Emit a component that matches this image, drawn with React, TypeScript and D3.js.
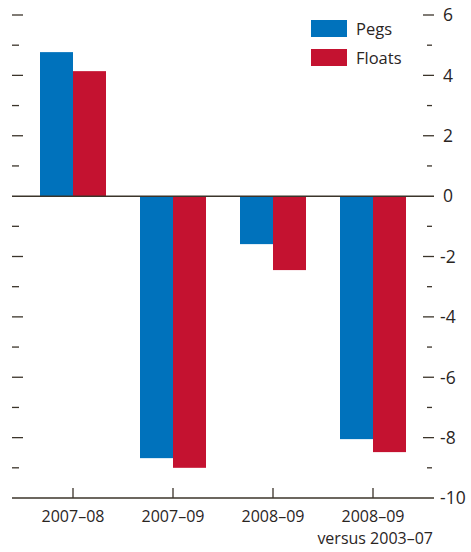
import { useEffect, useRef } from 'react';
import * as d3 from 'd3';

const categories = ['2007–08', '2007–09', '2008–09', '2008–09'];
const subLabels = ['', '', '', 'versus 2003–07'];
const series = ['Pegs', 'Floats'];
const pegs = [4.77, -8.68, -1.59, -8.05];
const floats = [4.14, -9.0, -2.45, -8.48];
const majorTicks = [6, 4, 2, 0, -2, -4, -6, -8, -10];
const minorTicks = [5, 3, 1, -1, -3, -5, -7, -9];

const colors = ['#0072bc', '#c41230'];
const ink = '#3b342a';
const textInk = '#2a251f';
const font = '"Open Sans", "Noto Sans", sans-serif';

export default function App() {
  const svgRef = useRef<SVGSVGElement | null>(null);

  useEffect(() => {
    if (!svgRef.current) return;
    const svg = d3.select(svgRef.current);
    svg.selectAll('*').remove();

    const left = 12;
    const right = 433;

    const y = d3.scaleLinear().domain([-10, 6]).range([498, 15]);
    const x = d3.scaleBand<number>().domain(d3.range(categories.length)).range([23, 423]);
    const barW = 33;

    // bars
    const values = [pegs, floats];
    values.forEach((vals, si) => {
      svg
        .append('g')
        .selectAll('rect')
        .data(vals)
        .join('rect')
        .attr('x', (_, i) => x(i)! + x.bandwidth() / 2 - barW + si * barW)
        .attr('width', barW)
        .attr('y', (d) => y(Math.max(0, d)))
        .attr('height', (d) => Math.abs(y(d) - y(0)))
        .attr('fill', colors[si]);
    });

    // left ticks
    const ticks = svg.append('g').attr('stroke', ink).attr('stroke-width', 1.3);
    ticks
      .selectAll('line.lmaj')
      .data(majorTicks.filter((t) => t !== 0 && t !== -10))
      .join('line')
      .attr('x1', left)
      .attr('x2', left + 11)
      .attr('y1', (d) => y(d))
      .attr('y2', (d) => y(d));
    ticks
      .selectAll('line.lmin')
      .data(minorTicks)
      .join('line')
      .attr('x1', left)
      .attr('x2', left + 7)
      .attr('y1', (d) => y(d))
      .attr('y2', (d) => y(d));

    // right axis
    const rAxis = svg.append('g').attr('stroke', ink).attr('stroke-width', 1.3);
    rAxis
      .selectAll('line.rmaj')
      .data(majorTicks.filter((t) => t !== 0 && t !== -10))
      .join('line')
      .attr('x1', right - 10)
      .attr('x2', right + 1)
      .attr('y1', (d) => y(d))
      .attr('y2', (d) => y(d));
    rAxis
      .selectAll('line.rmin')
      .data(minorTicks)
      .join('line')
      .attr('x1', right - 6)
      .attr('x2', right - 1)
      .attr('y1', (d) => y(d))
      .attr('y2', (d) => y(d));

    svg
      .append('g')
      .selectAll('text')
      .data(majorTicks)
      .join('text')
      .attr('x', (d) => (d < 0 ? 440 : 443))
      .attr('y', (d) => y(d))
      .attr('dy', '0.36em')
      .attr('font-family', font)
      .attr('font-size', 17.5)
      .attr('fill', textInk)
      .text((d) => (d < 0 ? `-${Math.abs(d)}` : `${d}`));

    // zero line and baseline
    svg
      .append('line')
      .attr('x1', left)
      .attr('x2', right + 1)
      .attr('y1', y(0))
      .attr('y2', y(0))
      .attr('stroke', ink)
      .attr('stroke-width', 1.5);
    svg
      .append('line')
      .attr('x1', left)
      .attr('x2', right + 1)
      .attr('y1', y(-10))
      .attr('y2', y(-10))
      .attr('stroke', ink)
      .attr('stroke-width', 1.5);

    // bottom ticks
    svg
      .append('g')
      .selectAll('line')
      .data(categories)
      .join('line')
      .attr('x1', (_, i) => x(i)! + x.bandwidth() / 2)
      .attr('x2', (_, i) => x(i)! + x.bandwidth() / 2)
      .attr('y1', y(-10))
      .attr('y2', y(-10) - 10)
      .attr('stroke', ink)
      .attr('stroke-width', 1.3);

    svg
      .append('g')
      .selectAll('text')
      .data(categories)
      .join('text')
      .attr('x', (_, i) => x(i)! + x.bandwidth() / 2)
      .attr('y', 522)
      .attr('text-anchor', 'middle')
      .attr('font-family', font)
      .attr('font-size', 16)
      .attr('fill', textInk)
      .text((d) => d);

    svg
      .append('g')
      .selectAll('text')
      .data(subLabels)
      .join('text')
      .attr('x', right)
      .attr('y', 544)
      .attr('text-anchor', 'end')
      .attr('font-family', font)
      .attr('font-size', 16)
      .attr('fill', textInk)
      .text((d) => d);

    // legend
    const legend = svg.append('g');
    series.forEach((s, i) => {
      legend
        .append('rect')
        .attr('x', 311)
        .attr('y', 20 + i * 29)
        .attr('width', 36)
        .attr('height', 17)
        .attr('fill', colors[i]);
      legend
        .append('text')
        .attr('x', 356)
        .attr('y', 29 + i * 29)
        .attr('dy', '0.36em')
        .attr('font-family', font)
        .attr('font-size', 16.5)
        .attr('fill', textInk)
        .text(s);
    });
  }, []);

  return (
    <svg
      ref={svgRef}
      width={471}
      height={552}
      style={{ position: 'absolute', left: 0, top: 0, background: '#fff' }}
    ></svg>
  );
}
